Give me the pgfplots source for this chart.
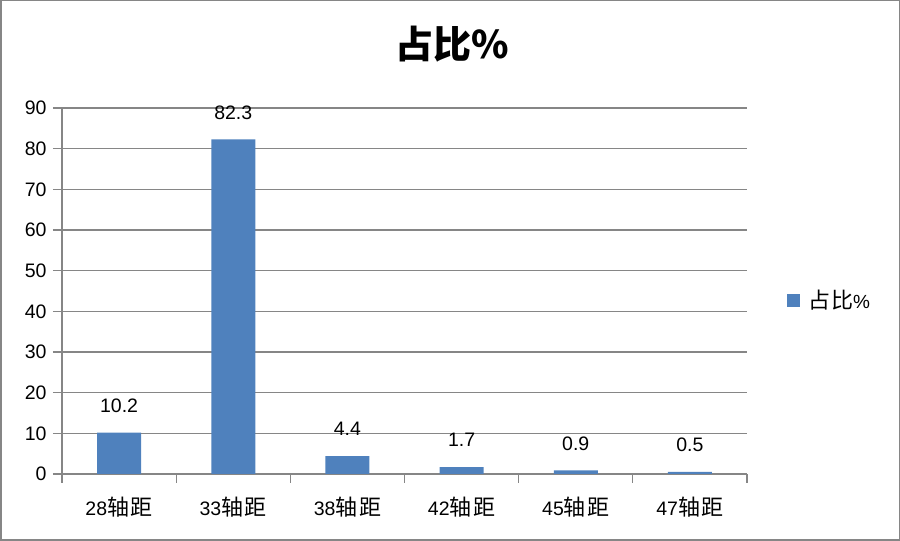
\documentclass[border=0pt]{standalone}
\usepackage{pgfplots}
\pgfplotsset{compat=1.18}
\usepackage{fontspec}
\setmainfont{Liberation Sans}
\newfontfamily\cjk{Noto Sans CJK SC}
\definecolor{barblue}{HTML}{4F81BD}
\definecolor{gridgray}{HTML}{868686}
\newcommand{\zj}{{\cjk\fontsize{22}{25}\selectfont 轴\hspace{1.5pt}距}}
\begin{document}
\begin{tikzpicture}
\path (0pt,0pt) rectangle (900pt,541pt);
\draw[gridgray, line width=1.5pt] (0.75pt,0.75pt) rectangle (899.25pt,540.25pt);
\node[font={\cjk\bfseries\fontsize{38}{42}\selectfont}] at (452pt,497pt) {占比\%};
\begin{axis}[
  at={(62pt,67pt)}, anchor=south west, scale only axis,
  width=685pt, height=366pt,
  /pgf/number format/assume math mode=true,
  ymin=0, ymax=90, ytick={0,10,...,90},
  xmin=-0.5, xmax=5.5,
  xtick={0,...,5},
  xticklabels={{28\zj},{33\zj},{38\zj},{42\zj},{45\zj},{47\zj}},
  minor xtick={-0.5,0.5,...,5.5},
  axis lines*=left,
  axis line style={gridgray, line width=1.2pt},
  ymajorgrids, grid style={gridgray, line width=1.2pt},
  tick align=outside, major tick length=9pt, minor tick length=9pt,
  major x tick style={draw=none},
  minor x tick style={gridgray, line width=1.2pt},
  ytick style={gridgray, line width=1.2pt},
  tick label style={font=\fontsize{19.5}{23}\selectfont},
  xticklabel style={yshift=-10pt},
  yticklabel style={xshift=-3pt},
  ybar, bar width=44pt,
  nodes near coords={\pgfmathprintnumber[fixed,fixed zerofill,precision=1]{\pgfplotspointmeta}},
  every node near coord/.append style={font=\fontsize{19.5}{23}\selectfont, anchor=center, yshift=27pt, text=black},
  legend style={at={(1.054,0.475)}, anchor=west, draw=none, fill=none, font=\fontsize{19}{22}\selectfont},
  legend image code/.code={\fill[#1] (0pt,-6.5pt) rectangle (13pt,6.5pt);},
]
\addplot[fill=barblue, draw=none] coordinates {(0,10.2) (1,82.3) (2,4.4) (3,1.7) (4,0.9) (5,0.5)};
\addlegendentry{\hspace{6pt}{\cjk\fontsize{22}{25}\selectfont 占\hspace{1pt}比}\%}
\end{axis}
\end{tikzpicture}
\end{document}
